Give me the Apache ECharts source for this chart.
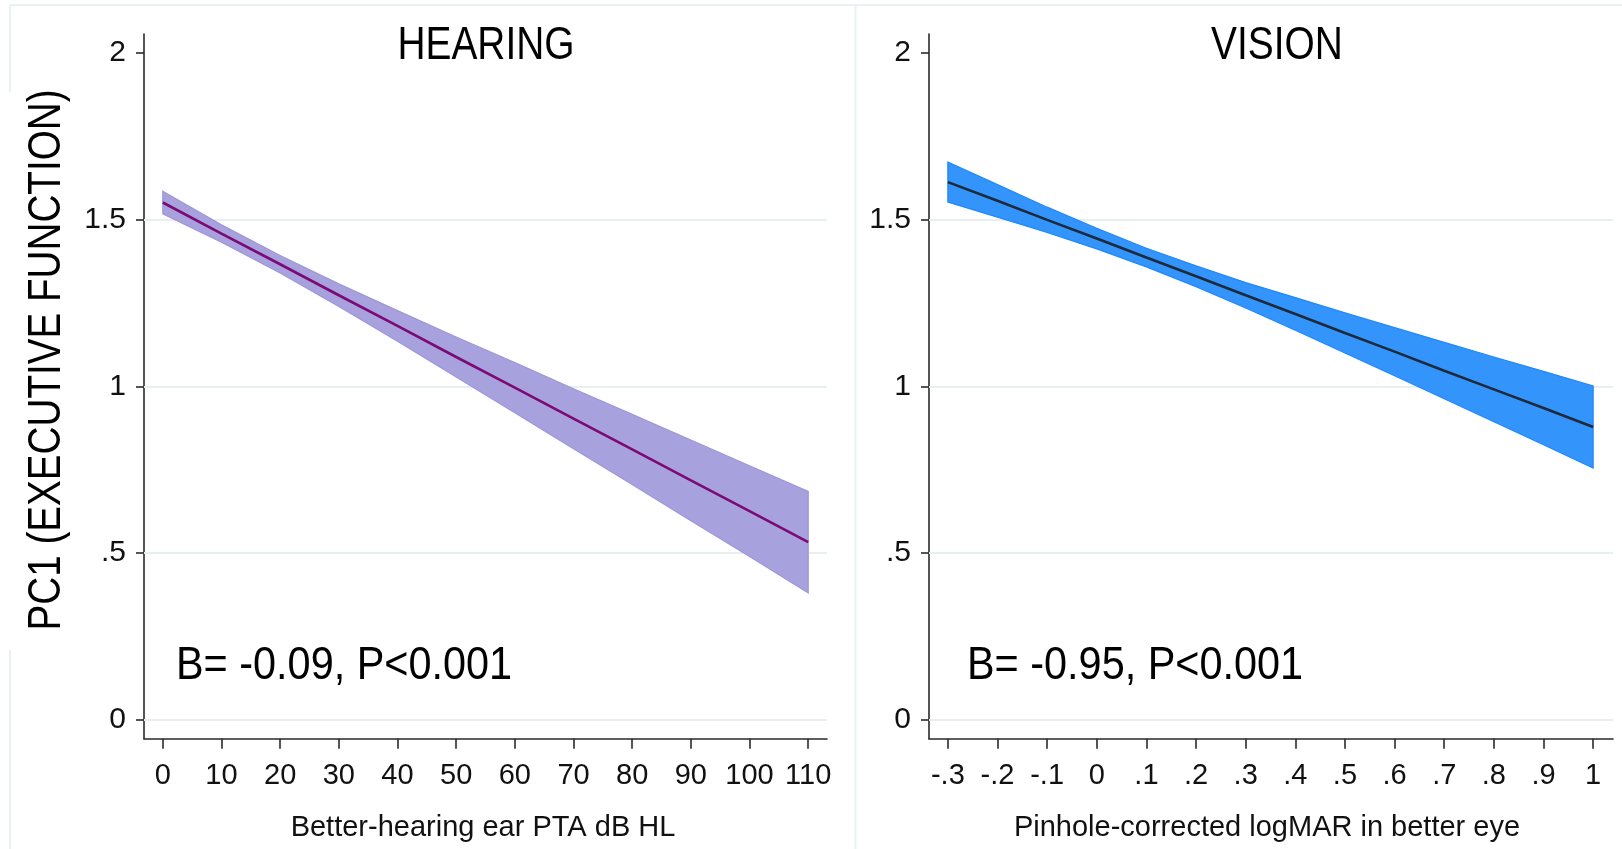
<!DOCTYPE html>
<html>
<head>
<meta charset="utf-8">
<script src="https://cdn.jsdelivr.net/npm/echarts@6/dist/echarts.min.js"></script>
<style>
html,body{margin:0;padding:0;background:#fff;}
#chart{width:1622px;height:849px;}
</style>
</head>
<body>
<div id="chart"></div>
<script>
// ---- data ----
const hearingX     = [0, 10, 20, 30, 40, 50, 60, 70, 80, 90, 100, 110];
const hearingFit   = [1.551, 1.458, 1.366, 1.273, 1.181, 1.088, 0.996, 0.903, 0.811, 0.718, 0.626, 0.533];
const hearingUpper = [1.585, 1.484, 1.392, 1.307, 1.227, 1.148, 1.071, 0.993, 0.916, 0.839, 0.762, 0.685];
const hearingLower = [1.517, 1.432, 1.340, 1.239, 1.135, 1.028, 0.921, 0.813, 0.706, 0.597, 0.490, 0.381];

const visionX     = [-0.3, -0.2, -0.1, 0, 0.1, 0.2, 0.3, 0.4, 0.5, 0.6, 0.7, 0.8, 0.9, 1.0];
const visionFit   = [1.612, 1.556, 1.499, 1.443, 1.386, 1.330, 1.273, 1.217, 1.160, 1.104, 1.047, 0.991, 0.935, 0.878];
const visionUpper = [1.672, 1.605, 1.537, 1.474, 1.414, 1.361, 1.311, 1.266, 1.220, 1.176, 1.132, 1.088, 1.045, 1.001];
const visionLower = [1.552, 1.507, 1.461, 1.412, 1.358, 1.299, 1.235, 1.168, 1.100, 1.032, 0.963, 0.894, 0.825, 0.755];

const hearingTicks      = [0, 10, 20, 30, 40, 50, 60, 70, 80, 90, 100, 110];
const hearingTickLabels = ['0','10','20','30','40','50','60','70','80','90','100','110'];
const visionTicks       = [-0.3, -0.2, -0.1, 0, 0.1, 0.2, 0.3, 0.4, 0.5, 0.6, 0.7, 0.8, 0.9, 1];
const visionTickLabels  = ['-.3','-.2','-.1','0','.1','.2','.3','.4','.5','.6','.7','.8','.9','1'];
const yTicks      = [0, 0.5, 1, 1.5, 2];
const yTickLabels = ['0', '.5', '1', '1.5', '2'];
const gridValues  = [0, 0.5, 1, 1.5];

const titles      = ['HEARING', 'VISION'];
const xTitles     = ['Better-hearing ear PTA dB HL', 'Pinhole-corrected logMAR in better eye'];
const annotations = ['B= -0.09, P<0.001', 'B= -0.95, P<0.001'];
const yTitle      = 'PC1 (EXECUTIVE FUNCTION)';

// ---- helpers ----
const REG = "'Liberation Sans', Arial, sans-serif";
function pairs(xs, ys) { return xs.map((x, i) => [x, ys[i]]); }
function lookup(ticks, labels) {
  return function (v) {
    for (let i = 0; i < ticks.length; i++) if (Math.abs(ticks[i] - v) < 1e-7) return labels[i];
    return '';
  };
}

const chart = echarts.init(document.getElementById('chart'), null, { renderer: 'canvas' });

function xAxisCfg(idx, min, max, ticks, labels) {
  return {
    type: 'value', gridIndex: idx, min: min, max: max,
    axisLine: { show: true, onZero: false, lineStyle: { color: '#2a2a2a', width: 1.6 } },
    axisTick: { show: true, length: 10, customValues: ticks, lineStyle: { color: '#2a2a2a', width: 1.6 } },
    axisLabel: { show: true, customValues: ticks, formatter: lookup(ticks, labels), margin: 23,
                 color: '#111', fontFamily: REG, fontSize: 29 },
    splitLine: { show: false }
  };
}
function yAxisCfg(idx) {
  return {
    type: 'value', gridIndex: idx, min: -0.056, max: 2.056,
    axisLine: { show: true, onZero: false, lineStyle: { color: '#2a2a2a', width: 1.6 } },
    axisTick: { show: true, length: 8, customValues: yTicks, lineStyle: { color: '#2a2a2a', width: 1.6 } },
    axisLabel: { show: true, customValues: yTicks, formatter: lookup(yTicks, yTickLabels), margin: 18,
                 color: '#111', fontFamily: REG, fontSize: 30 },
    splitLine: { show: false }
  };
}
function gridLineSeries(idx, xs, ys) {
  return {
    type: 'line', xAxisIndex: idx, yAxisIndex: idx, z: 1, silent: true,
    data: pairs(xs, ys), symbol: 'none', lineStyle: { opacity: 0 },
    markLine: {
      silent: true, symbol: 'none', label: { show: false }, z: 1,
      lineStyle: { color: '#e7eff1', width: 2, type: 'solid' },
      data: gridValues.map(v => ({ yAxis: v }))
    }
  };
}
function bandSeries(idx, xs, lower, upper, fill, edge) {
  return {
    type: 'custom', xAxisIndex: idx, yAxisIndex: idx, z: 3, silent: true,
    data: xs.map((x, i) => [x, lower[i], upper[i]]),
    encode: { x: 0, y: [1, 2] },
    renderItem: function (params, api) {
      if (params.dataIndex !== 0) return;
      const pts = [];
      for (let i = 0; i < xs.length; i++) pts.push(api.coord([xs[i], upper[i]]));
      for (let i = xs.length - 1; i >= 0; i--) pts.push(api.coord([xs[i], lower[i]]));
      return { type: 'polygon', shape: { points: pts },
               style: { fill: fill, stroke: edge, lineWidth: 1.2 } };
    }
  };
}
function fitSeries(idx, xs, ys, color) {
  return {
    type: 'line', xAxisIndex: idx, yAxisIndex: idx, z: 4, symbol: 'none', silent: true,
    data: pairs(xs, ys), lineStyle: { color: color, width: 2.6 }
  };
}

const option = {
  animation: false,
  backgroundColor: '#ffffff',
  grid: [
    { left: 144, top: 34, width: 683, height: 704.7, containLabel: false, outerBoundsMode: 'none' },
    { left: 929, top: 34, width: 684, height: 704.7, containLabel: false, outerBoundsMode: 'none' }
  ],
  xAxis: [
    xAxisCfg(0, -3.2, 113.2, hearingTicks, hearingTickLabels),
    xAxisCfg(1, -0.338, 1.04, visionTicks, visionTickLabels)
  ],
  yAxis: [yAxisCfg(0), yAxisCfg(1)],
  series: [
    gridLineSeries(0, hearingX, hearingFit),
    bandSeries(0, hearingX, hearingLower, hearingUpper, '#a7a1dd', '#9e97d9'),
    fitSeries(0, hearingX, hearingFit, '#7d0a74'),
    gridLineSeries(1, visionX, visionFit),
    bandSeries(1, visionX, visionLower, visionUpper, '#3394fc', '#2088fb'),
    fitSeries(1, visionX, visionFit, '#1e2a3a')
  ],
  graphic: [
    // faint frame lines
    { type: 'line', silent: true, z: -10, shape: { x1: 10, y1: 5, x2: 1622, y2: 5 }, style: { stroke: '#eaf1f3', lineWidth: 2 } },
    { type: 'line', silent: true, z: -10, shape: { x1: 855.5, y1: 5, x2: 855.5, y2: 849 }, style: { stroke: '#eaf1f3', lineWidth: 2 } },
    { type: 'line', silent: true, z: -10, shape: { x1: 10, y1: 5, x2: 10, y2: 92 }, style: { stroke: '#eaf1f3', lineWidth: 2 } },
    { type: 'line', silent: true, z: -10, shape: { x1: 10, y1: 650, x2: 10, y2: 849 }, style: { stroke: '#eaf1f3', lineWidth: 2 } },
    // panel titles
    { type: 'text', x: 486, y: 46, scaleX: 0.845, silent: true,
      style: { text: titles[0], fontFamily: REG, fontSize: 46, fill: '#000', align: 'center', verticalAlign: 'middle' } },
    { type: 'text', x: 1277, y: 46, scaleX: 0.845, silent: true,
      style: { text: titles[1], fontFamily: REG, fontSize: 46, fill: '#000', align: 'center', verticalAlign: 'middle' } },
    // x-axis titles
    { type: 'text', x: 483, y: 828, silent: true,
      style: { text: xTitles[0], fontFamily: REG, fontSize: 29, fill: '#111', align: 'center', verticalAlign: 'middle' } },
    { type: 'text', x: 1267, y: 828, silent: true,
      style: { text: xTitles[1], fontFamily: REG, fontSize: 29, fill: '#111', align: 'center', verticalAlign: 'middle' } },
    // annotations
    { type: 'text', x: 176, y: 666, scaleX: 0.9, silent: true,
      style: { text: annotations[0], fontFamily: REG, fontSize: 46, fill: '#000', align: 'left', verticalAlign: 'middle' } },
    { type: 'text', x: 967, y: 666, scaleX: 0.9, silent: true,
      style: { text: annotations[1], fontFamily: REG, fontSize: 46, fill: '#000', align: 'left', verticalAlign: 'middle' } },
    // y title
    { type: 'text', x: 47, y: 360, rotation: Math.PI / 2, scaleX: 0.84, silent: true,
      style: { text: yTitle, fontFamily: REG, fontSize: 46, fill: '#000', align: 'center', verticalAlign: 'middle' } }
  ]
};
chart.setOption(option);
</script>
</body>
</html>
